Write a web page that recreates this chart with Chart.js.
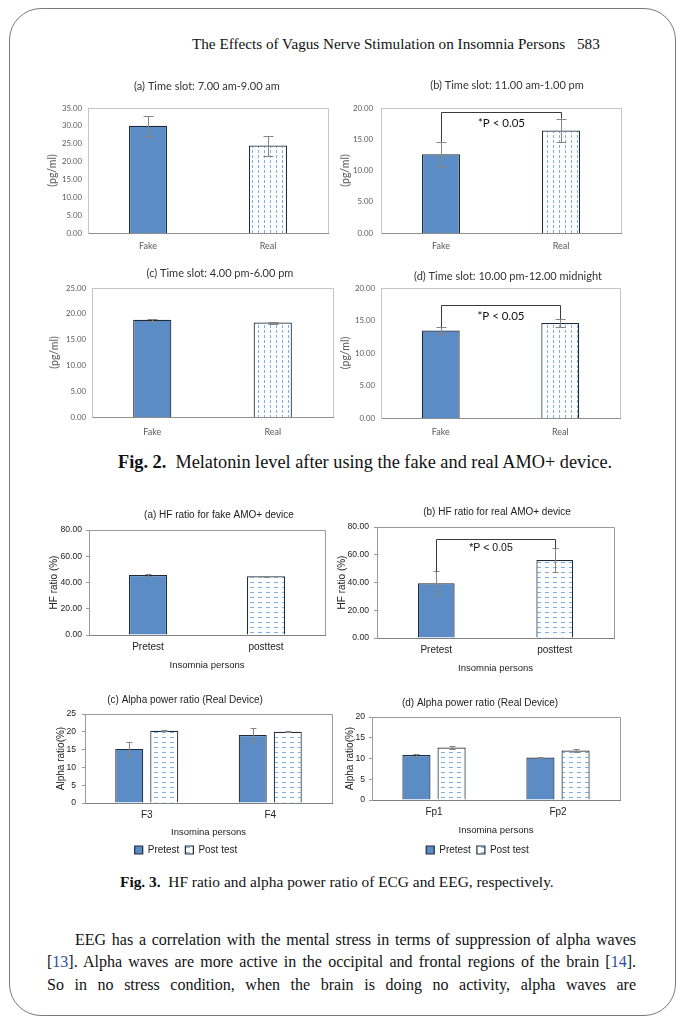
<!DOCTYPE html>
<html>
<head>
<meta charset="utf-8">
<script src="https://cdn.jsdelivr.net/npm/chart.js@4.4.1/dist/chart.umd.min.js"></script>
<style>
  body { margin: 0; background: #fff; width: 683px; height: 1024px; position: relative; overflow: hidden; font-family: "Liberation Serif", serif; color: #111; }
  .frame { position: absolute; left: 9px; top: 8px; width: 665px; height: 1006px; border: 1px solid #7a7a7a; border-radius: 32px; }
  .abs { position: absolute; white-space: nowrap; }
  canvas { position: absolute; }
  .line { position: absolute; left: 47px; width: 589px; font-size: 16px; line-height: 22px; height: 22px; overflow: hidden; text-align: justify; text-align-last: justify; }
  .ref { color: #2b4fa8; }
</style>
</head>
<body>
<div class="frame"></div>
<div class="abs" style="left:192px; top:35px; font-size:15.2px;">The Effects of Vagus Nerve Stimulation on Insomnia Persons</div>
<div class="abs" style="left:577px; top:35px; font-size:15.2px;">583</div>

<div class="abs" style="left:118px; top:452px; font-size:18.3px;"><b>Fig. 2.</b>&nbsp; Melatonin level after using the fake and real AMO+ device.</div>
<div class="abs" style="left:120px; top:873px; font-size:15.4px;"><b>Fig. 3.</b>&nbsp; HF ratio and alpha power ratio of ECG and EEG, respectively.</div>

<div class="line" style="top:929px; left:75px; width:561px;">EEG has a correlation with the mental stress in terms of suppression of alpha waves</div>
<div class="line" style="top:951px;">[<span class="ref">13</span>]. Alpha waves are more active in the occipital and frontal regions of the brain [<span class="ref">14</span>].</div>
<div class="line" style="top:974px;">So in no stress condition, when the brain is doing no activity, alpha waves are</div>

<script>
// ---- data ----
const deviceLabels = ["Fake", "Real"];
const morningValues = [30.0, 24.5];
const morningErrors = [2.8, 2.8];
const noonValues = [12.6, 16.4];
const noonErrors = [2.0, 1.9];
const eveningValues = [18.85, 18.3];
const eveningErrors = [0.2, 0.2];
const nightValues = [13.45, 14.6];
const nightErrors = [0.55, 0.6];

const testLabels = ["Pretest", "posttest"];
const hfFakeValues = [45.7, 44.7];
const hfFakeErrors = [0.5, 0.4];
const hfRealValues = [39.5, 56.2];
const hfRealErrors = [8.5, 8.5];

const seriesNames = ["Pretest", "Post test"];
const frontalSites = ["F3", "F4"];
const frontalPre = [15.2, 19.1];
const frontalPreErr = [1.9, 1.9];
const frontalPost = [20.3, 20.0];
const frontalPostErr = [0.2, 0.15];
const prefrontalSites = ["Fp1", "Fp2"];
const prefrontalPre = [10.85, 10.25];
const prefrontalPreErr = [0.25, 0.15];
const prefrontalPost = [12.65, 11.9];
const prefrontalPostErr = [0.35, 0.45];

const blue = "#5b8cc5";
const outline = "#1f2b3a";

function dashPattern(dir) {
  const c = document.createElement("canvas");
  c.width = dir === "v" ? 6 : 8;
  c.height = 5;
  const g = c.getContext("2d");
  g.fillStyle = "#fff";
  g.fillRect(0, 0, c.width, c.height);
  g.fillStyle = "#7cb0e8";
  if (dir === "v") g.fillRect(2, 0, 1, 3);
  else g.fillRect(2, 2, 4, 1);
  return g.createPattern(c, "repeat");
}
const vDash = dashPattern("v");
const hDash = dashPattern("h");

// ---- plugins ----
const panelTitle = {
  id: "panelTitle",
  afterDraw(chart, args, o) {
    if (!o.text) return;
    const ctx = chart.ctx;
    ctx.save();
    ctx.font = o.font;
    ctx.fillStyle = o.color;
    ctx.textAlign = "center";
    ctx.textBaseline = "middle";
    ctx.fillText(o.text, o.x, o.y);
    ctx.restore();
  },
};

const plotBox = {
  id: "plotBox",
  beforeDatasetsDraw(chart, args, o) {
    const { ctx, chartArea: a } = chart;
    ctx.save();
    ctx.strokeStyle = o.color;
    ctx.lineWidth = 1;
    ctx.beginPath();
    ctx.moveTo(a.left, Math.round(a.top) + 0.5);
    ctx.lineTo(Math.round(a.right) + 0.5, Math.round(a.top) + 0.5);
    ctx.lineTo(Math.round(a.right) + 0.5, a.bottom);
    ctx.stroke();
    ctx.restore();
  },
};

const errorBars = {
  id: "errorBars",
  afterDatasetsDraw(chart, args, o) {
    const ctx = chart.ctx;
    const y = chart.scales.y;
    chart.data.datasets.forEach((ds, i) => {
      if (!ds.errors) return;
      chart.getDatasetMeta(i).data.forEach((bar, j) => {
        const v = ds.data[j];
        const e = ds.errors[j];
        const x = Math.round(bar.x) + 0.5;
        const top = Math.round(y.getPixelForValue(v + e)) + 0.5;
        const bot = Math.round(y.getPixelForValue(v - e)) + 0.5;
        ctx.save();
        ctx.strokeStyle = o.color;
        ctx.lineWidth = 1;
        ctx.beginPath();
        ctx.moveTo(x, top);
        ctx.lineTo(x, bot);
        ctx.moveTo(x - o.cap, top);
        ctx.lineTo(x + o.cap, top);
        ctx.moveTo(x - o.cap, bot);
        ctx.lineTo(x + o.cap, bot);
        ctx.stroke();
        ctx.restore();
      });
    });
  },
};

// bracket between the two bars, legs end on the error bar tops
const sigBracket = {
  id: "sigBracket",
  afterDatasetsDraw(chart, args, o) {
    if (o.top == null) return;
    const ds = chart.data.datasets[0];
    const meta = chart.getDatasetMeta(0);
    const y = chart.scales.y;
    const x0 = Math.round(meta.data[0].x) + 0.5;
    const x1 = Math.round(meta.data[1].x) + 0.5;
    const yTop = Math.round(y.getPixelForValue(o.top)) + 0.5;
    const ctx = chart.ctx;
    ctx.save();
    ctx.strokeStyle = "#3a3a3a";
    ctx.lineWidth = 1;
    ctx.beginPath();
    ctx.moveTo(x0, y.getPixelForValue(ds.data[0] + ds.errors[0]));
    ctx.lineTo(x0, yTop);
    ctx.lineTo(x1, yTop);
    ctx.lineTo(x1, y.getPixelForValue(ds.data[1] + ds.errors[1]));
    ctx.stroke();
    ctx.font = o.font;
    ctx.fillStyle = "#111";
    ctx.textAlign = "center";
    ctx.textBaseline = "middle";
    ctx.fillText(o.text, (x0 + x1) / 2 + (o.dx || 0), y.getPixelForValue(o.textAt));
    ctx.restore();
  },
};

// ---- panel builder ----
function drawPanel(p) {
  const [W, H] = p.size;
  const [l, t, r, b] = p.area;
  const el = document.createElement("canvas");
  el.width = W;
  el.height = H;
  el.style.left = p.pos[0] + "px";
  el.style.top = p.pos[1] + "px";
  el.style.width = W + "px";
  el.style.height = H + "px";
  document.body.appendChild(el);

  const f = p.font;
  const legendPad = 6;
  const legendH = p.legend ? 20 + legendPad : 0;
  const yTitleLH = f.yTitle * 1.2;
  const xTitleLH = f.xTitle * 1.2;

  return new Chart(el, {
    type: "bar",
    data: { labels: p.labels, datasets: p.datasets },
    options: {
      responsive: false,
      animation: false,
      devicePixelRatio: 1,
      layout: { padding: { left: 0, top: t, right: W - r, bottom: 0 } },
      datasets: { bar: { categoryPercentage: p.catPct, barPercentage: p.barPct } },
      plugins: {
        tooltip: { enabled: false },
        legend: {
          display: !!p.legend,
          position: "bottom",
          labels: {
            boxWidth: 8,
            boxHeight: 8,
            padding: legendPad,
            color: "#222",
            font: { family: f.family, size: 10 },
          },
        },
        panelTitle: { text: p.title, x: p.titleAt[0], y: p.titleAt[1], font: f.title + "px " + f.family, color: f.titleColor },
        plotBox: { color: p.boxColor },
        errorBars: { color: "#858585", cap: p.cap },
        sigBracket: p.bracket || {},
      },
      scales: {
        x: {
          grid: { display: false, drawTicks: false },
          border: { display: true, color: p.axisColor },
          ticks: {
            padding: p.xLabelY - b - f.xTick * 0.6,
            color: f.tickColor,
            font: { family: f.family, size: f.xTick },
          },
          title: p.xTitle
            ? {
                display: true,
                text: p.xTitle,
                color: "#222",
                font: { family: f.family, size: f.xTitle },
                padding: { top: 0, bottom: H - legendH - xTitleLH / 2 - p.xTitleY },
              }
            : { display: false },
          afterFit: (s) => {
            s.height = H - b - (s.chart.legend ? s.chart.legend.height : 0);
          },
        },
        y: {
          min: 0,
          max: p.yMax,
          grid: { display: p.tickMarks > 0, drawOnChartArea: false, drawTicks: p.tickMarks > 0, tickLength: p.tickMarks, color: p.boxColor },
          border: { display: true, color: p.boxColor },
          ticks: {
            stepSize: p.yStep,
            padding: p.yPad,
            color: f.tickColor,
            font: { family: f.family, size: f.yTick },
            callback: p.decimals ? (v) => v.toFixed(2) : (v) => v,
          },
          title: {
            display: true,
            text: p.yTitle,
            color: f.tickColor,
            font: { family: f.family, size: f.yTitle },
            padding: { top: Math.max(0, p.yTitleX - yTitleLH / 2), bottom: 0 },
          },
          afterFit: (s) => {
            s.width = l;
          },
        },
      },
    },
    plugins: [plotBox, errorBars, sigBracket, panelTitle],
  });
}

const calibriLike = { family: "Lato", title: 11, yTick: 7.8, xTick: 9, yTitle: 10.5, xTitle: 10, tickColor: "#595959", titleColor: "#333" };
const arialLike = { family: "Liberation Sans", title: 10, yTick: 8.6, xTick: 10, yTitle: 10, xTitle: 9.5, tickColor: "#222", titleColor: "#222" };

function pairSet(values, errors, pattern) {
  return [{
    data: values,
    errors: errors,
    backgroundColor: [blue, pattern],
    borderColor: outline,
    borderWidth: 1.2,
  }];
}

function groupSets(pre, preErr, post, postErr) {
  return [
    { label: seriesNames[0], data: pre, errors: preErr, backgroundColor: blue, borderColor: outline, borderWidth: 1.2 },
    { label: seriesNames[1], data: post, errors: postErr, backgroundColor: hDash, borderColor: outline, borderWidth: 1.2 },
  ];
}

const fig2Common = { font: calibriLike, decimals: true, yStep: 5, catPct: 1, barPct: 0.317, cap: 5, tickMarks: 0, boxColor: "#c4c4c4", axisColor: "#8e8e8e", yTitle: "(pg/ml)" };
const fig3Common = { font: arialLike, cap: 3, tickMarks: 3, boxColor: "#9a9a9a", axisColor: "#808080" };

// Fig. 2
drawPanel({ ...fig2Common, pos: [40, 70], size: [295, 190], area: [48, 38, 288, 163], yPad: 6,
  title: "(a) Time slot: 7.00 am-9.00 am", titleAt: [167, 16], yTitleX: 13, xLabelY: 176,
  labels: deviceLabels, datasets: pairSet(morningValues, morningErrors, vDash), yMax: 35 });
drawPanel({ ...fig2Common, pos: [335, 70], size: [305, 190], area: [46, 38, 286, 163], yPad: 8,
  title: "(b) Time slot: 11.00 am-1.00 pm", titleAt: [172, 15], yTitleX: 11, xLabelY: 176,
  labels: deviceLabels, datasets: pairSet(noonValues, noonErrors, vDash), yMax: 20,
  bracket: { top: 19.4, textAt: 17.6, text: "*P < 0.05", font: "11.5px Lato" } });
drawPanel({ ...fig2Common, pos: [40, 260], size: [295, 190], area: [52, 28, 293, 157], yPad: 6,
  title: "(c) Time slot: 4.00 pm-6.00 pm", titleAt: [180, 13], yTitleX: 15, xLabelY: 172,
  labels: deviceLabels, datasets: pairSet(eveningValues, eveningErrors, vDash), yMax: 25 });
drawPanel({ ...fig2Common, pos: [335, 260], size: [305, 190], area: [46, 28, 285, 158], yPad: 6,
  title: "(d) Time slot: 10.00 pm-12.00 midnight", titleAt: [173, 16], yTitleX: 11, xLabelY: 172,
  labels: deviceLabels, datasets: pairSet(nightValues, nightErrors, vDash), yMax: 20,
  bracket: { top: 17.4, textAt: 15.7, text: "*P < 0.05", font: "11.5px Lato" } });

// Fig. 3
drawPanel({ ...fig3Common, pos: [40, 495], size: [295, 185], area: [49, 35, 285, 140], yPad: 4,
  title: "(a) HF ratio for fake AMO+ device", titleAt: [179, 20], yTitleX: 14, xLabelY: 152, xTitleY: 170,
  xTitle: "Insomnia persons", yTitle: "HF ratio (%)", decimals: true, yMax: 80, yStep: 20, catPct: 1, barPct: 0.322,
  labels: testLabels, datasets: pairSet(hfFakeValues, hfFakeErrors, hDash) });
drawPanel({ ...fig3Common, pos: [335, 495], size: [305, 185], area: [42, 32, 279, 143], yPad: 5,
  title: "(b) HF ratio for real AMO+ device", titleAt: [162, 17], yTitleX: 7, xLabelY: 155, xTitleY: 173,
  xTitle: "Insomnia persons", yTitle: "HF ratio (%)", decimals: true, yMax: 80, yStep: 20, catPct: 1, barPct: 0.31,
  labels: testLabels, datasets: pairSet(hfRealValues, hfRealErrors, hDash),
  bracket: { top: 71.4, textAt: 64.9, text: "*P < 0.05", font: "10.5px 'Liberation Sans'", dx: -5 } });
drawPanel({ ...fig3Common, pos: [40, 685], size: [295, 180], area: [45, 29, 292, 118], yPad: 6,
  title: "(c) Alpha power ratio (Real Device)", titleAt: [145, 15], yTitleX: 21, xLabelY: 130, xTitleY: 147,
  xTitle: "Insomina persons", yTitle: "Alpha ratio(%)", decimals: false, yMax: 25, yStep: 5, catPct: 0.567, barPct: 0.8,
  legend: true, labels: frontalSites, datasets: groupSets(frontalPre, frontalPreErr, frontalPost, frontalPostErr) });
drawPanel({ ...fig3Common, pos: [335, 685], size: [305, 180], area: [37, 32, 285, 115], yPad: 4,
  title: "(d) Alpha power ratio (Real Device)", titleAt: [145, 18], yTitleX: 15, xLabelY: 127, xTitleY: 145,
  xTitle: "Insomina persons", yTitle: "Alpha ratio(%)", decimals: false, yMax: 20, yStep: 5, catPct: 0.567, barPct: 0.8,
  legend: true, labels: prefrontalSites, datasets: groupSets(prefrontalPre, prefrontalPreErr, prefrontalPost, prefrontalPostErr) });
</script>
</body>
</html>
